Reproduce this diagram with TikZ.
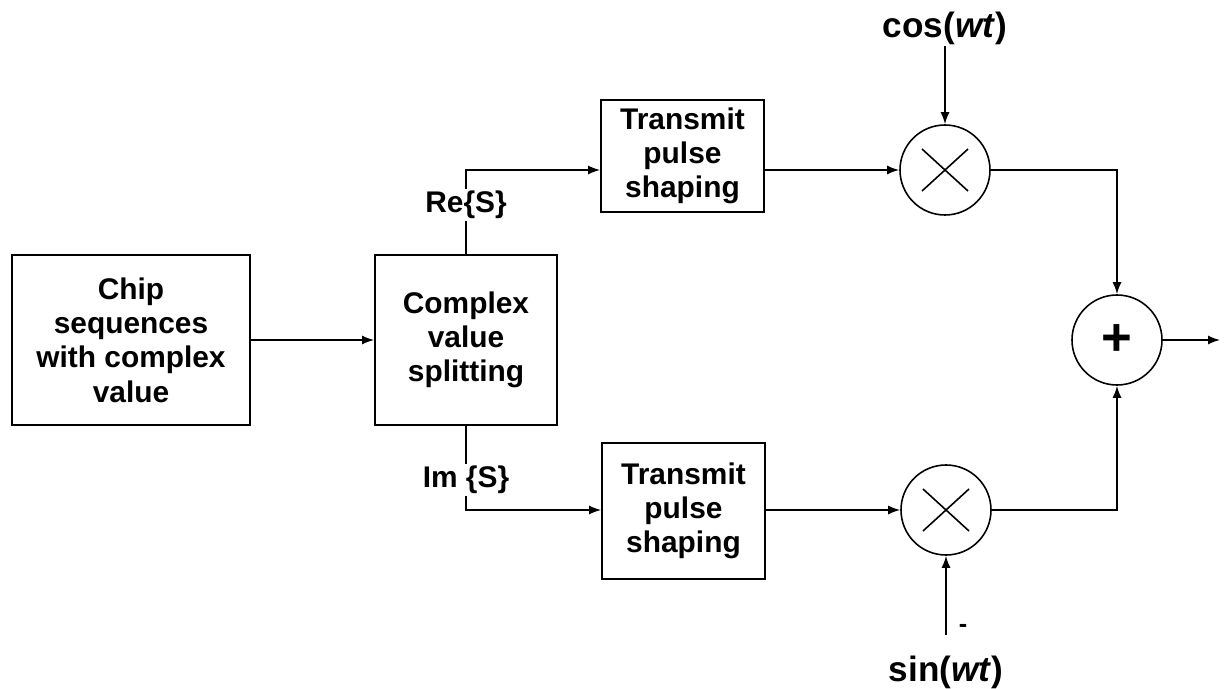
\documentclass[tikz,border=0pt]{standalone}
\usepackage{fontspec}
\setmainfont{Liberation Sans}
\usetikzlibrary{arrows.meta}

\begin{document}
\begin{tikzpicture}[
        blk/.style={draw, line width=1pt, align=center, inner sep=0pt,
            font=\bfseries\fontsize{17}{19.5}\selectfont},
        mix/.style={draw, circle, line width=0.9pt, minimum size=1.8cm, inner sep=0pt},
        lbl/.style={font=\bfseries\fontsize{17}{19.5}\selectfont, inner sep=1pt},
        osc/.style={font=\bfseries\fontsize{20}{24}\selectfont, inner sep=1pt},
        line/.style={line width=0.9pt},
        wire/.style={line width=0.9pt, -{Latex[length=2.4mm,width=1.8mm]}}
    ]
        \useasboundingbox (0,0) rectangle (24.5,13.76);

        \node[blk, minimum width=4.76cm, minimum height=3.4cm] (chip) at (2.62,6.96) {Chip\\sequences\\with complex\\value};
        \node[blk, minimum width=3.64cm, minimum height=3.4cm] (split) at (9.32,6.96) {Complex\\value\\splitting};

        \node[lbl] (re) at (9.32,9.66) {Re\{S\}};
        \node[lbl] (im) at (9.32,4.16) {Im \{S\}};

        \node[blk, minimum width=3.26cm, minimum height=2.24cm] (tx1) at (13.65,10.64) {Transmit\\pulse\\shaping};
        \node[blk, minimum width=3.26cm, minimum height=2.72cm] (tx2) at (13.67,3.54) {Transmit\\pulse\\shaping};

        \node[mix] (mul1) at (18.9,10.36) {};
        \node[mix] (mul2) at (18.92,3.56) {};
        \node[mix, font=\bfseries\fontsize{30}{30}\selectfont] (sum) at (22.34,6.96) {+};

        \node[osc] (cos) at (18.9,13.2) {cos(\textit{wt})};
        \node[osc] (sin) at (18.92,0.32) {sin(\textit{wt})};
        \node[font=\bfseries\Large, inner sep=0pt] (neg) at (19.26,1.2) {-};

        \coordinate (sinfoot) at (18.92,1.06);
        \coordinate (out) at (24.4,6.96);

        \foreach \m in {mul1,mul2}
            \draw[line] (\m.center) +(-0.46,-0.42) -- +(0.46,0.42)
                        (\m.center) +(-0.46,0.42) -- +(0.46,-0.42);

        \draw[wire] (chip) -- (split);

        \draw[line] (split.north) -- (re.south);
        \draw[wire] (re.north) |- (tx1.west |- mul1);
        \draw[line] (split.south) -- (im.north);
        \draw[wire] (im.south) |- (tx2.west |- mul2);

        \draw[wire] (tx1.east |- mul1) -- (mul1);
        \draw[wire] (tx2.east |- mul2) -- (mul2);

        \draw[wire] (cos.south) -- (mul1.north);
        \draw[wire] (sinfoot) -- (mul2.south);

        \draw[wire] (mul1.east) -| (sum.north);
        \draw[wire] (mul2.east) -| (sum.south);
        \draw[wire] (sum.east) -- (out);
    \end{tikzpicture}
\end{document}
